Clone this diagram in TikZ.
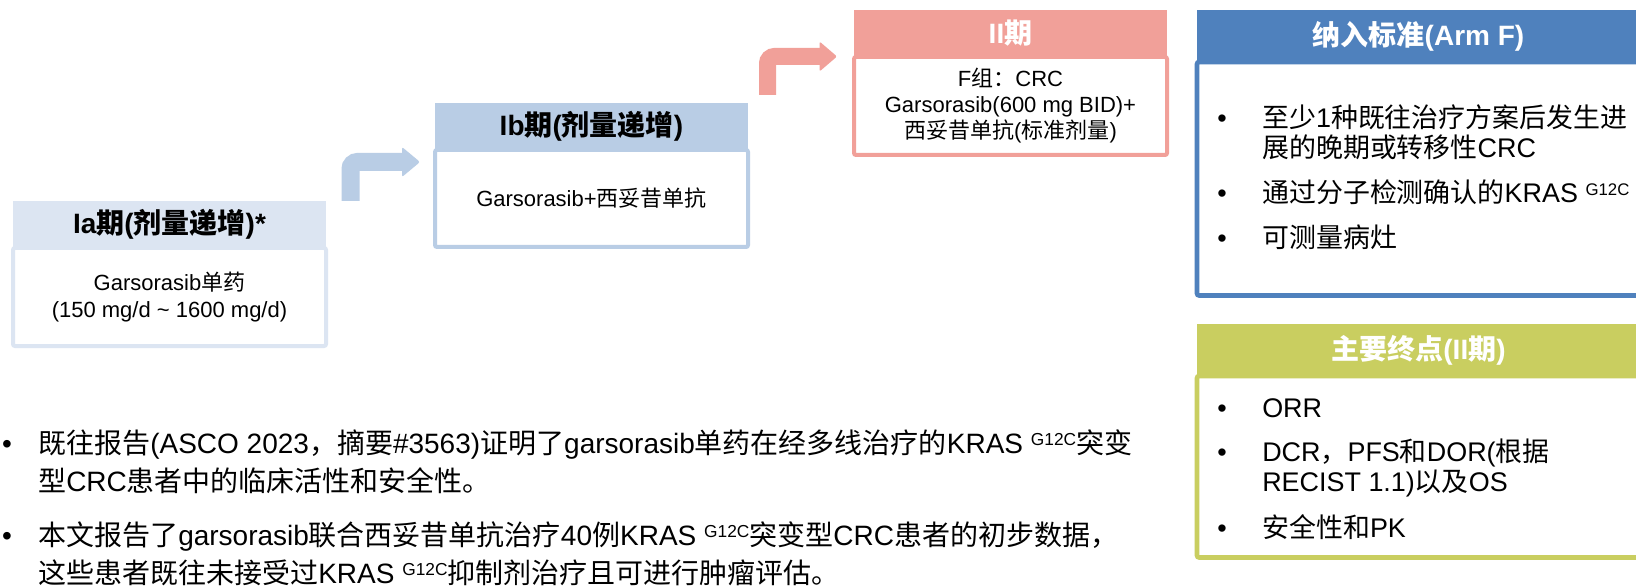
\documentclass[tikz,border=0pt]{standalone}
\usepackage{fontspec}
\setmainfont{Liberation Sans}
\newfontfamily\cjkfont{Noto Sans CJK SC}
\usetikzlibrary{calc}
\XeTeXinterchartokenstate=1
\newXeTeXintercharclass\CJKclass
\newcount\cjkcnt
\newcommand\setcjkrange[2]{\cjkcnt=#1\relax
  \loop\XeTeXcharclass\cjkcnt=\CJKclass\relax
  \ifnum\cjkcnt<#2\relax\advance\cjkcnt by 1\relax\repeat}
\setcjkrange{"3000}{"303F}
\setcjkrange{"4E00}{"9FFF}
\setcjkrange{"FF00}{"FFEF}
\newcommand\zhon{\cjkfont}
\XeTeXinterchartoks 0 \CJKclass = {\zhon}
\XeTeXinterchartoks 4095 \CJKclass = {\zhon}
\XeTeXinterchartoks \CJKclass 0 = {\rmfamily}
\XeTeXinterchartoks \CJKclass 4095 = {\rmfamily}
\newcommand\supG[2]{\raisebox{#1}{\fontsize{#2}{#2}\selectfont G12C}}
\definecolor{iaC}{RGB}{220,229,242}
\definecolor{ibC}{RGB}{185,205,229}
\definecolor{twoC}{RGB}{241,160,153}
\definecolor{inclC}{RGB}{79,129,189}
\definecolor{endC}{RGB}{201,206,96}
\begin{document}
\begin{tikzpicture}[x=0.75pt,y=-0.75pt,
  hdr/.style={inner sep=0pt, minimum width=234.75pt, font=\fontsize{21}{25}\selectfont\bfseries},
  bodybox/.style={fill=white, line width=3pt, rounded corners=1.5pt, minimum width=234.75pt, inner sep=0pt, align=center, font=\fontsize{16.5}{20}\selectfont},
  rbody/.style={fill=white, line width=3.4pt, rounded corners=1.5pt, minimum width=332.25pt, inner sep=0pt},
  rhdr/.style={inner sep=0pt, minimum width=332.25pt, minimum height=39pt, text=white, font=\fontsize{21}{25}\selectfont\bfseries},
  btxt/.style={anchor=base west, inner sep=0pt, font=\fontsize{20.2}{24}\selectfont},
  bdot/.style={anchor=base, inner sep=0pt, font=\fontsize{20.2}{24}\selectfont},
  ltxt/.style={anchor=base west, inner sep=0pt, font=\fontsize{21}{25}\selectfont},
  ldot/.style={anchor=base, inner sep=0pt, font=\fontsize{21}{25}\selectfont}]
\useasboundingbox[fill=white] (0,0) rectangle (1636,588);

% Ia
\node[bodybox, draw=iaC, minimum height=73.5pt] (iaBody) at (169.5,297) {Garsorasib单药\\(150 mg/d \textasciitilde{} 1600 mg/d)};
\node[hdr, fill=iaC, minimum height=35.25pt] (iaHead) at (169.5,224.5) {Ia期(剂量递增)*};
% Ib
\node[bodybox, draw=ibC, minimum height=72.75pt] (ibBody) at (591.5,198.5) {Garsorasib+西妥昔单抗};
\node[hdr, fill=ibC, minimum height=35.25pt] (ibHead) at (591.5,126.5) {Ib期(剂量递增)};
% II
\node[bodybox, draw=twoC, minimum height=73.5pt, font=\fontsize{16.5}{19.5}\selectfont] (twoBody) at (1010.5,106) {F组：CRC\\Garsorasib(600 mg BID)+\\西妥昔单抗(标准剂量)};
\node[hdr, fill=twoC, text=white, minimum height=35.25pt] (twoHead) at (1010.5,33.5) {II期};

% arrows
\coordinate (a1s) at (350.5,201);
\coordinate (a1e) at (404,162);
\coordinate (a1t) at (420,162);
\draw[ibC, line width=13.5pt, rounded corners=5.25pt] (a1s) |- (a1e);
\fill[ibC, rounded corners=1.5pt] ($(a1t)+(-18,-15)$) -- (a1t) -- ($(a1t)+(-18,15)$) -- cycle;
\coordinate (a2s) at (767.5,95);
\coordinate (a2e) at (821,56.5);
\coordinate (a2t) at (837,56.5);
\draw[twoC, line width=12.75pt, rounded corners=5.25pt] (a2s) |- (a2e);
\fill[twoC, rounded corners=1.5pt] ($(a2t)+(-17.5,-15)$) -- (a2t) -- ($(a2t)+(-17.5,15)$) -- cycle;

% inclusion
\node[rbody, draw=inclC, minimum height=175.1pt] (inclBody) at (1418.5,178.75) {};
\node[rhdr, fill=inclC] (inclHead) at (1418.5,36) {纳入标准(Arm F)};
\node[bdot] (id1) at (1222,127.5) {•};
\node[btxt] (it1a) at (1262,127.5) {至少1种既往治疗方案后发生进};
\node[btxt] (it1b) at (1262,157.5) {展的晚期或转移性CRC};
\node[bdot] (id2) at (1222,202.5) {•};
\node[btxt] (it2) at (1262,202.5) {通过分子检测确认的KRAS \supG{4.9pt}{12.6pt}};
\node[bdot] (id3) at (1222,247.5) {•};
\node[btxt] (it3) at (1262,247.5) {可测量病灶};

% endpoints
\node[rbody, draw=endC, minimum height=136.1pt] (endBody) at (1418.5,466.75) {};
\node[rhdr, fill=endC] (endHead) at (1418.5,350) {主要终点(II期)};
\node[bdot] (ed1) at (1222,417.5) {•};
\node[btxt] (et1) at (1262,417.5) {ORR};
\node[bdot] (ed2) at (1222,461.5) {•};
\node[btxt] (et2a) at (1262,461.5) {DCR，PFS和DOR(根据};
\node[btxt] (et2b) at (1262,491.5) {RECIST 1.1)以及OS};
\node[bdot] (ed3) at (1222,537.5) {•};
\node[btxt] (et3) at (1262,537.5) {安全性和PK};

% bottom text
\node[ldot] (ld1) at (7,453) {•};
\node[ltxt] (l1) at (38,453) {既往报告(ASCO 2023，摘要\#3563)证明了garsorasib单药在经多线治疗的KRAS \supG{6pt}{13pt}{}突变};
\node[ltxt] (l2) at (38,491) {型CRC患者中的临床活性和安全性。};
\node[ldot] (ld2) at (7,545) {•};
\node[ltxt] (l3) at (38,545) {本文报告了garsorasib联合西妥昔单抗治疗40例KRAS \supG{6pt}{13pt}{}突变型CRC患者的初步数据，};
\node[ltxt] (l4) at (38,583) {这些患者既往未接受过KRAS \supG{6pt}{13pt}{}抑制剂治疗且可进行肿瘤评估。};
\end{tikzpicture}
\end{document}
